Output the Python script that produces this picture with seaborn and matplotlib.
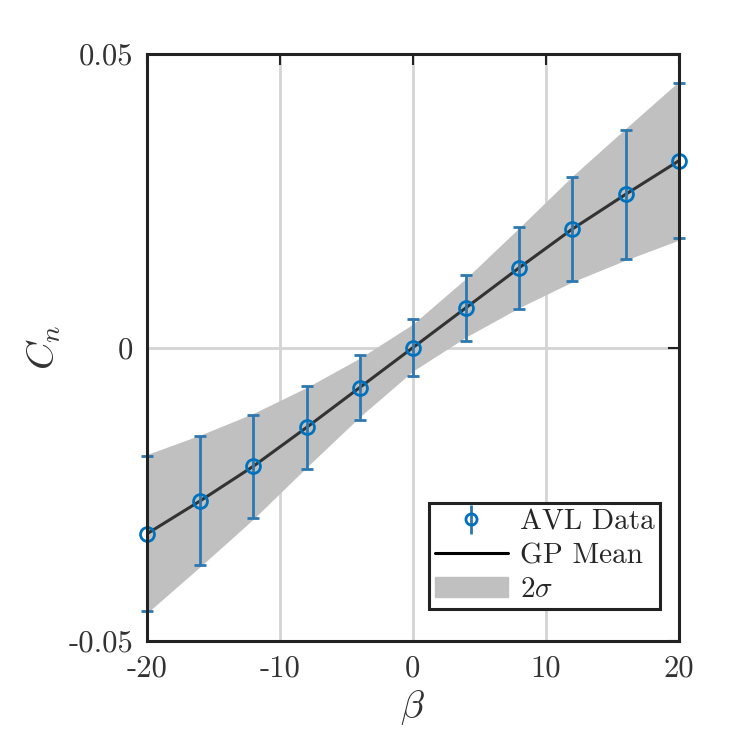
import matplotlib
matplotlib.use("Agg")
import matplotlib.pyplot as plt
import seaborn as sns
import numpy as np
from matplotlib.lines import Line2D
from matplotlib.patches import Patch

beta = [-20, -16, -12, -8, -4, 0, 4, 8, 12, 16, 20]
cn = [-0.0317, -0.0261, -0.0202, -0.0136, -0.0068, 0.0, 0.0068, 0.0136, 0.0202, 0.0261, 0.0318]
err = [0.0132, 0.0110, 0.0088, 0.0070, 0.0056, 0.0049, 0.0056, 0.0070, 0.0088, 0.0110, 0.0132]
band = [0.0135, 0.0112, 0.0090, 0.0068, 0.0050, 0.0040, 0.0050, 0.0068, 0.0090, 0.0112, 0.0135]
xticks = [-20, -10, 0, 10, 20]
xticklabels = ["-20", "-10", "0", "10", "20"]
yticks = [-0.05, 0, 0.05]
yticklabels = ["-0.05", "0", "0.05"]

sns.set_style("white")
plt.rcParams['font.family'] = ['cmr10', 'DejaVu Serif']
plt.rcParams['mathtext.fontset'] = 'cm'
plt.rcParams['axes.unicode_minus'] = False

fig = plt.figure(figsize=(7.5, 7.5), dpi=100)
ax = fig.add_axes([0.196, 0.145, 0.709, 0.783])

b = np.array(beta); c = np.array(cn); s = np.array(band)
ax.fill_between(b, c - s, c + s, color="#c0c0c0", lw=0, zorder=1)
sns.lineplot(x=beta, y=cn, ax=ax, color="#333333", lw=2.2, zorder=3)
blue = "#2E78B0"
ax.errorbar(beta, cn, yerr=err, fmt="o", mfc="none", mec="#0072BD", mew=2, ms=10,
            ecolor=blue, elinewidth=2, capsize=4, capthick=2, zorder=4, clip_on=False)

ax.set_xlim(-20, 20); ax.set_ylim(-0.05, 0.05)
ax.set_xticks(xticks); ax.set_xticklabels(xticklabels, fontsize=22)
ax.set_yticks(yticks); ax.set_yticklabels(yticklabels, fontsize=22)
ax.grid(True, color="#d4d4d4", lw=2, zorder=0)
ax.set_axisbelow(True)
ax.tick_params(direction="in", length=8, width=1.5, top=True, right=True, pad=10,
               colors="#222222", labelcolor="#333333")
for sp in ax.spines.values():
    sp.set_linewidth(2.2); sp.set_color("#222222"); sp.set_zorder(5)
ax.set_xlabel(r"$\beta$", fontsize=28, color="#333333", labelpad=4)
ax.set_ylabel(r"$C_n$", fontsize=28, color="#333333", labelpad=4)

h0 = ax.errorbar([], [], yerr=[], fmt="o", mfc="none", mec="#0072BD", mew=2, ms=8,
                 ecolor=blue, elinewidth=2, capsize=4, capthick=2)
leg = ax.legend([h0, Line2D([], [], color="black", lw=2.2), Patch(color="#c0c0c0")],
                ["AVL Data", "GP Mean", r"$2\sigma$"],
                loc="lower right", bbox_to_anchor=(0.965, 0.055), fontsize=21, fancybox=False,
                framealpha=1, edgecolor="#222222", borderpad=0.2, handlelength=2.5,
                labelspacing=0.25, handletextpad=0.4, borderaxespad=0)
leg.get_frame().set_linewidth(2.2)
leg.set_zorder(6)
fig.savefig("out.png", dpi=100)
